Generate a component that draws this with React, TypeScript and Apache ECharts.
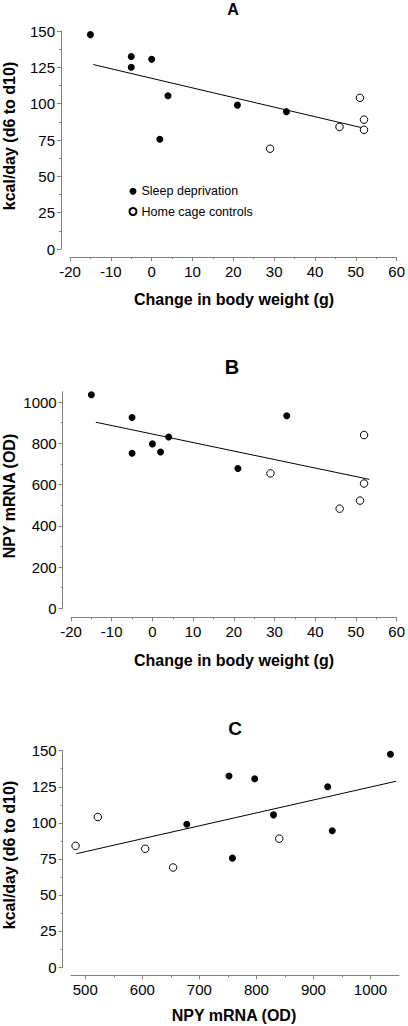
import React, { useEffect, useRef } from 'react';
import * as echarts from 'echarts';

// Sleep deprivation group (filled)
const sdWeight = [-15, -5, -5, 0, 4, 2, 21, 33];
const sdKcal = [147.5, 132.5, 125, 130.5, 105.5, 75.5, 99, 94.5];
const sdNpy = [1035, 752, 925, 797, 830, 758, 678, 933];

// Home cage controls (open)
const hcWeight = [29, 46, 51, 52, 52];
const hcKcal = [69, 84, 104, 89, 82];
const hcNpy = [654, 483, 522, 840, 605];

// Regression line end points
const fitA = [[-14.3, 126.9], [51.7, 83.3]];
const fitB = [[-13.9, 902], [53.3, 625]];
const fitC = [[484.6, 78.6], [1044.7, 128.8]];

// Tick labels
const weightTicks = [-20, -10, 0, 10, 20, 30, 40, 50, 60];
const kcalTicks = [0, 25, 50, 75, 100, 125, 150];
const npyTicksY = [0, 200, 400, 600, 800, 1000];
const npyTicksX = [500, 600, 700, 800, 900, 1000];

const titles = ['A', 'B', 'C'];
const seriesNames = ['Sleep deprivation', 'Home cage controls'];
const xNames = ['Change in body weight (g)', 'Change in body weight (g)', 'NPY mRNA (OD)'];
const yNames = ['kcal/day (d6 to d10)', 'NPY mRNA (OD)', 'kcal/day (d6 to d10)'];

const FONT = 'Liberation Sans, Arial, Helvetica, sans-serif';
const AXIS = '#808080';

const zip = (a: number[], b: number[]) => a.map((v, i) => [v, b[i]]);
const plain = (v: number) => String(v);

function xAx(gridIndex: number, min: number, max: number, interval: number | undefined, ticks: number[], offset: number) {
  const ax: any = {
    type: 'value', gridIndex, min, max, offset, position: 'bottom',
    axisLine: { show: true, onZero: false, lineStyle: { color: AXIS, width: 1 } },
    axisTick: { show: true, length: 4, lineStyle: { color: AXIS, width: 1 }, customValues: ticks },
    minorTick: { show: true, splitNumber: 2, length: 2, lineStyle: { color: AXIS, width: 1 } },
    axisLabel: { color: '#000', fontSize: 15, fontFamily: FONT, margin: 7, customValues: ticks, formatter: plain },
    splitLine: { show: false }, minorSplitLine: { show: false },
  };
  if (interval !== undefined) ax.interval = interval;
  return ax;
}

function yAx(gridIndex: number, min: number, max: number, interval: number, ticks: number[], offset: number) {
  return {
    type: 'value', gridIndex, min, max, interval, offset, position: 'left',
    axisLine: { show: true, onZero: false, lineStyle: { color: AXIS, width: 1 } },
    axisTick: { show: true, length: 4, lineStyle: { color: AXIS, width: 1 }, customValues: ticks },
    minorTick: { show: true, splitNumber: 2, length: 2, lineStyle: { color: AXIS, width: 1 } },
    axisLabel: { color: '#000', fontSize: 15, fontFamily: FONT, margin: 6, customValues: ticks, formatter: plain },
    splitLine: { show: false }, minorSplitLine: { show: false },
  };
}

function scatter(name: number, idx: number, data: number[][]) {
  const filled = name === 0;
  return {
    type: 'scatter', name: seriesNames[name], xAxisIndex: idx, yAxisIndex: idx, data,
    symbol: 'circle', symbolSize: filled ? 7 : 7.5, z: 3,
    itemStyle: filled
      ? { color: '#000', borderColor: '#000', borderWidth: 0, opacity: 1 }
      : { color: '#fff', borderColor: '#000', borderWidth: 1, opacity: 1 },
  };
}

function fit(idx: number, data: number[][]) {
  return {
    type: 'line', xAxisIndex: idx, yAxisIndex: idx, data, symbol: 'none', silent: true, z: 2,
    lineStyle: { color: '#000', width: 1 },
  };
}

function txt(text: string, x: number, y: number, size: number, bold: boolean, rot = 0) {
  return {
    type: 'text', x, y, rotation: rot, silent: true,
    style: {
      text, fill: '#000', font: `${bold ? 'bold ' : ''}${size}px ${FONT}`,
      textAlign: 'center', textVerticalAlign: 'middle',
    },
  };
}

export default function App() {
  const ref = useRef<HTMLDivElement>(null);
  useEffect(() => {
    const chart = echarts.init(ref.current!, null, { renderer: 'svg', width: 408, height: 1026 });
    const option: any = {
      animation: false,
      backgroundColor: '#fff',
      grid: [
        { left: 70, top: 31, width: 329, height: 218 },
        { left: 71, top: 391.7, width: 327.3, height: 216.6 },
        { left: 71, top: 750.7, width: 328, height: 216.3 },
      ],
      xAxis: [
        xAx(0, -20, 60, 10, weightTicks, 8),
        xAx(1, -20, 60, 10, weightTicks, 9),
        xAx(2, 475, 1050, undefined, npyTicksX, 8.3),
      ],
      yAxis: [
        yAx(0, 0, 150, 25, kcalTicks, 9),
        yAx(1, 0, 1050, 200, npyTicksY, 8.3),
        yAx(2, 0, 150, 25, kcalTicks, 8.3),
      ],
      legend: {
        data: seriesNames, orient: 'vertical', left: 123.5, top: 179.7, padding: 5,
        icon: 'circle', itemWidth: 7, itemHeight: 7, itemGap: 7.3,
        textStyle: { color: '#000', fontSize: 12.5, fontFamily: FONT, lineHeight: 12 },
        selectedMode: false,
      },
      series: [
        fit(0, fitA), scatter(0, 0, zip(sdWeight, sdKcal)), scatter(1, 0, zip(hcWeight, hcKcal)),
        fit(1, fitB), scatter(0, 1, zip(sdWeight, sdNpy)), scatter(1, 1, zip(hcWeight, hcNpy)),
        fit(2, fitC), scatter(0, 2, zip(sdNpy, sdKcal)), scatter(1, 2, zip(hcNpy, hcKcal)),
      ],
      graphic: [
        txt(titles[0], 233, 9.5, 16, true),
        txt(titles[1], 232, 367, 20, true),
        txt(titles[2], 235, 728.5, 19, true),
        txt(xNames[0], 234, 299, 16, true),
        txt(xNames[1], 234, 660, 16, true),
        txt(xNames[2], 234, 1015, 16, true),
        txt(yNames[0], 9, 136, 16, true, Math.PI / 2),
        txt(yNames[1], 9, 496, 16, true, Math.PI / 2),
        txt(yNames[2], 9, 855, 16, true, Math.PI / 2),
      ],
    };
    chart.setOption(option);
    return () => chart.dispose();
  }, []);
  return (
    <div
      ref={ref}
      style={{ position: 'absolute', left: 0, top: 0, width: 408, height: 1026, background: '#fff' }}
    />
  );
}
